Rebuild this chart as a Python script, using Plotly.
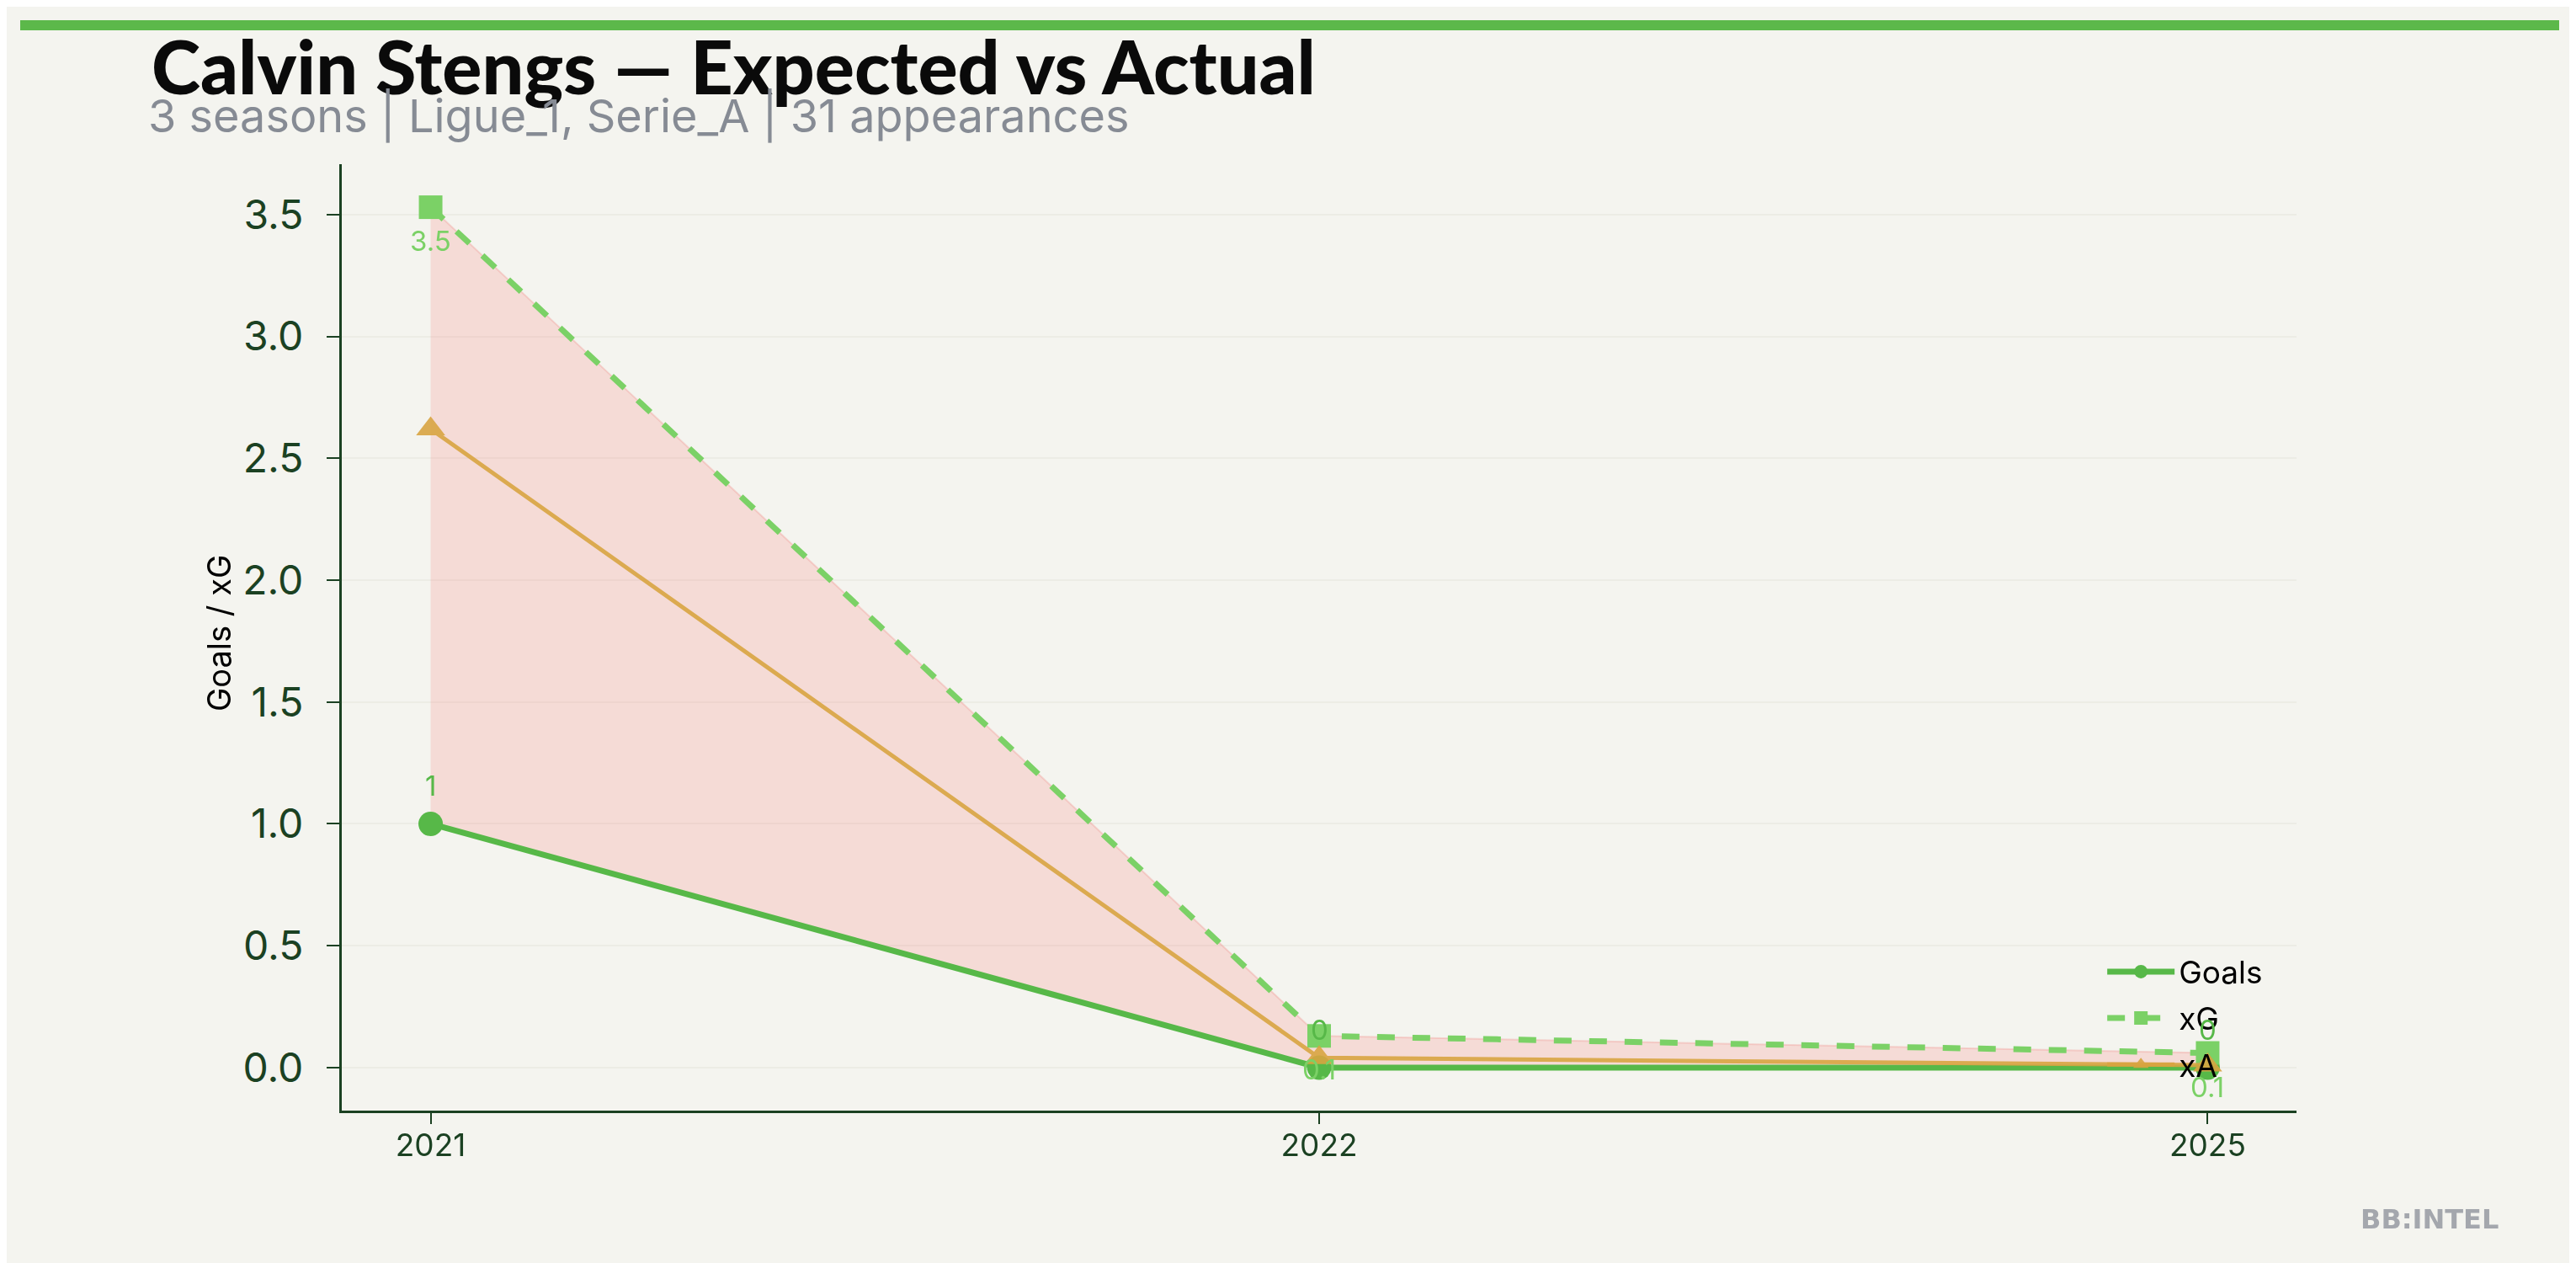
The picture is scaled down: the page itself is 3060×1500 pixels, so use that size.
import plotly.graph_objects as go

# ---- data ----
seasons = ["2021", "2022", "2025"]
goals = [1, 0, 0]
xg = [3.53, 0.13, 0.06]
xa = [2.62, 0.04, 0.01]
goal_labels = ["1", "0", "0"]
xg_labels = ["3.5", "0.1", "0.1"]
y_ticks = [0.0, 0.5, 1.0, 1.5, 2.0, 2.5, 3.0, 3.5]

title_text = "Calvin Stengs \u2014 Expected vs Actual"
subtitle_text = "3 seasons | Ligue_1, Serie_A | 31 appearances"

# ---- style ----
BG = "#f4f4ef"
AXIS = "#1b4122"
C_GOALS = "#57b848"
C_XG = "#7bd166"
C_XA = "#d9a441"

# plot box in pixels; the page adds an 8px body margin
W, H = 3060, 1500
OFF = 8
L, T = 406 - OFF, 195 - OFF
pw, ph = 2322, 1124
R, B = W - L - pw, H - T - ph


def px_x(x):
    return (x - OFF - L) / pw


def px_y(y):
    return (T + ph - (y - OFF)) / ph


fig = go.Figure()

# shaded gap between xG and goals (closed polygon)
fig.add_trace(go.Scatter(
    x=seasons + seasons[::-1], y=xg + goals[::-1],
    mode="lines", fill="toself",
    fillcolor="rgba(250,120,115,0.2)",
    line=dict(width=2, color="rgba(240,120,115,0.25)"),
    showlegend=False, hoverinfo="skip"
))

fig.add_trace(go.Scatter(
    x=seasons, y=goals, name="Goals", mode="lines+markers", legendgroup="g",
    line=dict(color=C_GOALS, width=7),
    marker=dict(symbol="circle", size=29, color=C_GOALS)
))
fig.add_trace(go.Scatter(
    x=seasons, y=xg, name="xG", mode="lines+markers", legendgroup="xg",
    line=dict(color=C_XG, width=7, dash="dash"),
    marker=dict(symbol="square", size=28, color=C_XG)
))
fig.add_trace(go.Scatter(
    x=seasons, y=xa, name="xA", mode="lines+markers", legendgroup="xa",
    line=dict(color=C_XA, width=5), opacity=0.9,
    marker=dict(symbol="triangle-up", size=30, color=C_XA)
))

# value labels (category index positions)
annotations = []
for i, (v, t) in enumerate(zip(goals, goal_labels)):
    annotations.append(dict(x=i, y=v, text=t, showarrow=False, yshift=45,
                            font=dict(family="Inter", size=33, color=C_GOALS)))
for i, (v, t) in enumerate(zip(xg, xg_labels)):
    annotations.append(dict(x=i, y=v, text=t, showarrow=False, yshift=-40,
                            font=dict(family="Inter", size=33, color=C_XG)))

# title, subtitle, y title, watermark
annotations.append(dict(
    xref="paper", yref="paper", x=px_x(178), y=px_y(78),
    xanchor="left", yanchor="middle", showarrow=False,
    text=title_text,
    font=dict(family="Lato", size=88, weight=900, color="#0a0a0a")
))
annotations.append(dict(
    xref="paper", yref="paper", x=px_x(174), y=px_y(137),
    xanchor="left", yanchor="middle", showarrow=False,
    text=subtitle_text,
    font=dict(family="Inter", size=54, color="#868b94")
))
annotations.append(dict(
    xref="paper", yref="paper", x=px_x(260), y=px_y(752),
    xanchor="center", yanchor="middle", showarrow=False, textangle=-90,
    text="Goals / xG",
    font=dict(family="Inter", size=38, color="#000000")
))
annotations.append(dict(
    xref="paper", yref="paper", x=px_x(2886), y=px_y(1448),
    xanchor="center", yanchor="middle", showarrow=False,
    text="<b>BB:INTEL</b>",
    font=dict(family="DejaVu Sans", size=32, color="#a4a7ad")
))

fig.update_layout(
    width=W, height=H,
    paper_bgcolor=BG, plot_bgcolor=BG,
    margin=dict(l=L, r=R, t=T, b=B, pad=0),
    annotations=annotations,
    shapes=[dict(
        type="rect", xref="paper", yref="paper",
        x0=px_x(24), x1=px_x(3040), y0=px_y(36), y1=px_y(24),
        fillcolor="#5cb84a", line=dict(width=0)
    )],
    legend=dict(
        x=0.985, y=0.021, xanchor="right", yanchor="bottom",
        traceorder="grouped", tracegroupgap=4,
        bgcolor="rgba(0,0,0,0)", font=dict(family="Inter", size=37, color="#000000"),
        itemwidth=80
    ),
    showlegend=True,
)

fig.update_xaxes(
    type="category", range=[-0.1, 2.1],
    showline=True, linecolor=AXIS, linewidth=3,
    ticks="outside", ticklen=13, tickwidth=2, tickcolor=AXIS,
    tickfont=dict(family="Inter", size=37, color=AXIS),
    ticklabelstandoff=-6,
    showgrid=False, zeroline=False
)
fig.update_yaxes(
    range=[-0.1765, 3.7065], tickvals=y_ticks, tickformat=".1f",
    showline=True, linecolor=AXIS, linewidth=3,
    ticks="outside", ticklen=15, tickwidth=2, tickcolor=AXIS,
    tickfont=dict(family="Inter", size=48, color=AXIS),
    ticklabelstandoff=18,
    showgrid=True, gridcolor="#ecece5", gridwidth=2, zeroline=False
)

fig.write_html("out.html")
